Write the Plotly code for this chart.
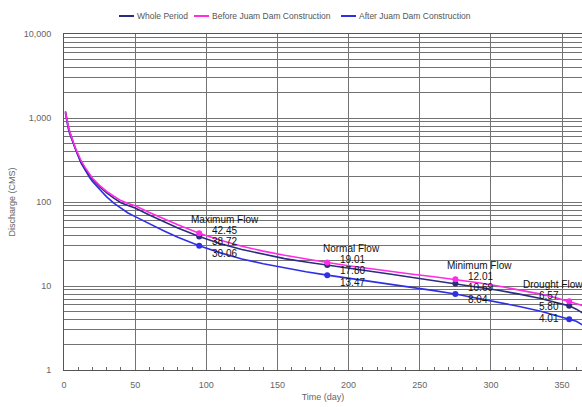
import math
import plotly.graph_objects as go

# ---------------- data ----------------
days = [1, 2, 3, 4, 5, 6, 8, 10, 12, 15, 18, 20, 25, 30, 35, 40, 45, 50, 60, 70, 80,
        95, 110, 125, 140, 155, 170, 185, 200, 215, 230, 245, 260, 275, 290, 305,
        320, 335, 345, 355, 360, 365]

whole_period = [1200, 950, 790, 680, 600, 540, 430, 360, 300, 245, 205, 185, 152, 128,
                111, 98, 91, 85, 70, 58, 49, 38.72, 31.8, 27.2, 23.8, 21.2, 19.3, 17.80,
                16.3, 15.0, 13.8, 12.6, 11.6, 10.69, 9.8, 8.9, 8.0, 7.1, 6.4, 5.80, 5.3, 4.7]

before_dam = [1180, 940, 790, 690, 610, 550, 440, 370, 310, 255, 213, 192, 158, 134,
              117, 104, 96, 90, 75, 63, 53.5, 42.45, 35.0, 29.8, 26.0, 23.2, 20.9, 19.01,
              17.4, 16.0, 14.9, 13.8, 12.9, 12.01, 11.0, 10.0, 9.0, 8.0, 7.3, 6.57, 6.2, 5.8]

after_dam = [1150, 900, 750, 650, 580, 520, 420, 350, 290, 235, 195, 175, 140, 115,
             97, 84, 74, 67, 55, 45.5, 38, 30.06, 24.8, 21.0, 18.4, 16.4, 14.8, 13.47,
             12.4, 11.4, 10.5, 9.7, 8.8, 8.04, 7.2, 6.4, 5.7, 5.0, 4.5, 4.01, 3.8, 3.4]

series_names = ["Whole Period", "Before Juam Dam Construction", "After Juam Dam Construction"]

flow_days = [95, 185, 275, 355]
flow_names = ["Maximum Flow", "Normal Flow", "Minimum Flow", "Drought Flow"]

y_tick_values = [m * 10 ** e for e in range(4) for m in range(1, 10)] + [10000]
y_tick_major = {1: "1", 10: "10", 100: "100", 1000: "1,000", 10000: "10,000"}
x_tick_step = 50

# ---------------- styles ----------------
W, H = 582, 407
M_L, M_R, M_T, M_B = 64, 0, 34, 37
colors = {"Whole Period": "#2B2B80",
          "Before Juam Dam Construction": "#FF2BE6",
          "After Juam Dam Construction": "#2F2FE8"}
FONT = "Liberation Sans, Arial, sans-serif"

fig = go.Figure()
data = {"Whole Period": whole_period,
        "Before Juam Dam Construction": before_dam,
        "After Juam Dam Construction": after_dam}

for name in ["After Juam Dam Construction", "Whole Period", "Before Juam Dam Construction"]:
    vals = data[name]
    fig.add_trace(go.Scatter(x=days, y=vals, mode="lines", name=name,
                             line=dict(color=colors[name], width=1.6),
                             showlegend=False, hoverinfo="skip"))
    mk_y = [vals[days.index(d)] for d in flow_days]
    fig.add_trace(go.Scatter(x=flow_days, y=mk_y, mode="markers", showlegend=False,
                             marker=dict(color=colors[name], size=6),
                             hoverinfo="skip"))

# ---------------- annotations ----------------
annotations = []
shapes = []
order = ["Before Juam Dam Construction", "Whole Period", "After Juam Dam Construction"]
for i, d in enumerate(flow_days):
    yb = before_dam[days.index(d)]
    ly = math.log10(yb)
    drought = (i == len(flow_days) - 1)
    head_shift = 17 if drought else 14
    if drought:
        annotations.append(dict(x=d, y=ly, xref="x", yref="y", text=flow_names[i],
                                showarrow=False, xanchor="left", yanchor="middle",
                                xshift=-48, yshift=head_shift,
                                font=dict(family=FONT, size=10, color="#111")))
    else:
        annotations.append(dict(x=d, y=ly, xref="x", yref="y", text=flow_names[i],
                                showarrow=False, xanchor="center", yanchor="middle",
                                xshift=26 if i == 0 else 24.5, yshift=head_shift,
                                font=dict(family=FONT, size=10, color="#111")))
    offsets = [11, 22, 34]
    for k, nm in enumerate(order):
        v = data[nm][days.index(d)]
        annotations.append(dict(x=d, y=ly, xref="x", yref="y", text=f"{v:.2f}",
                                showarrow=False,
                                xanchor="right" if drought else "left",
                                yanchor="middle",
                                xshift=-8 if drought else 11,
                                yshift=head_shift - offsets[k],
                                font=dict(family=FONT, size=10, color="#111")))

# legend drawn as line samples + texts (compact, like the original)
plot_w = W - M_L - M_R
plot_h = H - M_T - M_B
def px_x(px):
    return (px - M_L) / plot_w
legend_y = 1 + (M_T - 16) / plot_h
legend_starts = [119, 194, 341]
for n, s in zip(series_names, legend_starts):
    shapes.append(dict(type="line", xref="paper", yref="paper",
                       x0=px_x(s), x1=px_x(s + 15), y0=legend_y, y1=legend_y,
                       line=dict(color=colors[n], width=2)))
    annotations.append(dict(x=px_x(s + 16), y=legend_y, xref="paper", yref="paper",
                            text=n, showarrow=False, xanchor="left", yanchor="middle",
                            font=dict(family=FONT, size=8.5, color="#555")))

fig.update_layout(
    width=W, height=H,
    margin=dict(l=M_L, r=M_R, t=M_T, b=M_B),
    paper_bgcolor="white", plot_bgcolor="white",
    font=dict(family=FONT, size=9, color="#666"),
    annotations=annotations, shapes=shapes,
    showlegend=False,
)

fig.update_xaxes(range=[0, 364], dtick=x_tick_step, tick0=0,
                 showgrid=True, gridcolor="#737373", gridwidth=1,
                 showline=True, linecolor="#555", linewidth=1, mirror=True,
                 ticks="", ticklabelstandoff=6,
                 minor=dict(dtick=10, ticks="inside", ticklen=3, tickcolor="#666",
                            showgrid=False),
                 zeroline=False,
                 title=dict(text="Time (day)", standoff=4,
                            font=dict(family=FONT, size=9, color="#666")),
                 tickfont=dict(family=FONT, size=9, color="#666"))

fig.update_yaxes(type="log", range=[0, 4],
                 tickmode="array", tickvals=y_tick_values,
                 ticktext=[y_tick_major.get(v, "") for v in y_tick_values],
                 showgrid=True, gridcolor="#737373", gridwidth=1,
                 showline=True, linecolor="#555", linewidth=1, mirror=True,
                 ticks="", ticklabelstandoff=10,
                 zeroline=False,
                 title=dict(text="Discharge (CMS)", standoff=6,
                            font=dict(family=FONT, size=9, color="#666")),
                 tickfont=dict(family=FONT, size=9, color="#666"))

fig.write_html("out.html")
